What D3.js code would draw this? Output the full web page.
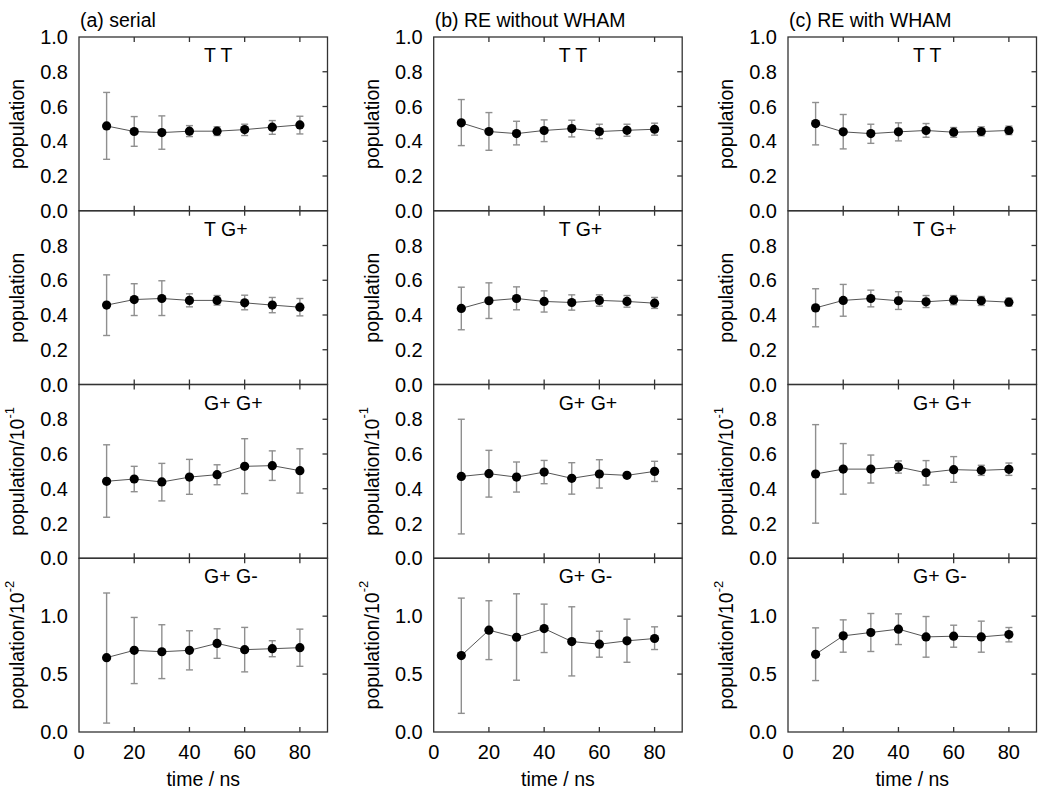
<!DOCTYPE html>
<html>
<head>
<meta charset="utf-8">
<script src="https://cdn.jsdelivr.net/npm/d3@7"></script>
<style>
  html, body { margin: 0; padding: 0; background: #fff; }
  svg text { font-family: "Liberation Sans", Arial, sans-serif; fill: #000; }
</style>
</head>
<body>
<svg id="chart" width="1047" height="802"></svg>
<script>
// ---------------- DATA ----------------
const times = [10, 20, 30, 40, 50, 60, 70, 80];
const columnTitles = ["(a) serial", "(b) RE without WHAM", "(c) RE with WHAM"];
const rowLabels = ["T T", "T G+", "G+ G+", "G+ G-"];
const yAxisTitles = [["population", ""], ["population", ""], ["population/10", "-1"], ["population/10", "-2"]];
const yTicksPopulation = [0, 0.2, 0.4, 0.6, 0.8, 1.0];
const yTicksScaled = [0, 0.5, 1.0, 1.5];
const xTicks = [0, 20, 40, 60, 80];

// (a) serial
const serial_TT_mean = [0.488, 0.456, 0.450, 0.458, 0.458, 0.467, 0.481, 0.494];
const serial_TT_low  = [0.296, 0.371, 0.354, 0.427, 0.433, 0.433, 0.440, 0.442];
const serial_TT_high = [0.681, 0.542, 0.546, 0.490, 0.483, 0.498, 0.519, 0.544];
const serial_TG_mean = [0.457, 0.489, 0.495, 0.484, 0.484, 0.470, 0.457, 0.445];
const serial_TG_low  = [0.282, 0.397, 0.397, 0.447, 0.457, 0.430, 0.413, 0.395];
const serial_TG_high = [0.631, 0.580, 0.597, 0.522, 0.512, 0.514, 0.501, 0.495];
const serial_GG_mean = [0.443, 0.456, 0.439, 0.467, 0.481, 0.529, 0.533, 0.504];
const serial_GG_low  = [0.236, 0.383, 0.330, 0.368, 0.423, 0.372, 0.448, 0.375];
const serial_GG_high = [0.653, 0.529, 0.546, 0.569, 0.538, 0.688, 0.618, 0.630];
const serial_GGm_mean = [0.642, 0.705, 0.693, 0.705, 0.765, 0.711, 0.719, 0.728];
const serial_GGm_low  = [0.077, 0.418, 0.461, 0.536, 0.636, 0.519, 0.650, 0.567];
const serial_GGm_high = [1.200, 0.989, 0.926, 0.874, 0.891, 0.903, 0.788, 0.888];

// (b) RE without WHAM
const reNo_TT_mean = [0.506, 0.456, 0.444, 0.462, 0.473, 0.456, 0.463, 0.469];
const reNo_TT_low  = [0.375, 0.348, 0.379, 0.398, 0.425, 0.415, 0.429, 0.435];
const reNo_TT_high = [0.640, 0.565, 0.515, 0.523, 0.521, 0.498, 0.498, 0.504];
const reNo_TG_mean = [0.438, 0.482, 0.495, 0.478, 0.472, 0.484, 0.478, 0.468];
const reNo_TG_low  = [0.315, 0.380, 0.430, 0.417, 0.428, 0.451, 0.445, 0.438];
const reNo_TG_high = [0.560, 0.585, 0.562, 0.539, 0.516, 0.516, 0.512, 0.501];
const reNo_GG_mean = [0.471, 0.487, 0.467, 0.496, 0.460, 0.485, 0.477, 0.500];
const reNo_GG_low  = [0.140, 0.352, 0.381, 0.429, 0.369, 0.404, 0.465, 0.442];
const reNo_GG_high = [0.800, 0.621, 0.554, 0.563, 0.550, 0.567, 0.488, 0.558];
const reNo_GGm_mean = [0.660, 0.879, 0.818, 0.893, 0.781, 0.758, 0.787, 0.807];
const reNo_GGm_low  = [0.161, 0.625, 0.447, 0.686, 0.484, 0.646, 0.602, 0.712];
const reNo_GGm_high = [1.156, 1.133, 1.193, 1.104, 1.081, 0.870, 0.974, 0.908];

// (c) RE with WHAM
const reW_TT_mean = [0.502, 0.454, 0.444, 0.454, 0.462, 0.452, 0.456, 0.462];
const reW_TT_low  = [0.379, 0.356, 0.388, 0.402, 0.423, 0.423, 0.431, 0.438];
const reW_TT_high = [0.623, 0.554, 0.498, 0.506, 0.502, 0.479, 0.483, 0.487];
const reW_TG_mean = [0.441, 0.484, 0.495, 0.482, 0.476, 0.486, 0.482, 0.474];
const reW_TG_low  = [0.332, 0.393, 0.447, 0.432, 0.443, 0.459, 0.455, 0.451];
const reW_TG_high = [0.551, 0.576, 0.543, 0.534, 0.512, 0.512, 0.507, 0.497];
const reW_GG_mean = [0.485, 0.513, 0.513, 0.525, 0.492, 0.510, 0.506, 0.512];
const reW_GG_low  = [0.202, 0.369, 0.433, 0.490, 0.421, 0.437, 0.477, 0.477];
const reW_GG_high = [0.769, 0.660, 0.594, 0.560, 0.562, 0.585, 0.535, 0.548];
const reW_GGm_mean = [0.671, 0.830, 0.859, 0.888, 0.821, 0.827, 0.821, 0.841];
const reW_GGm_low  = [0.444, 0.689, 0.695, 0.755, 0.646, 0.732, 0.689, 0.778];
const reW_GGm_high = [0.899, 0.968, 1.023, 1.020, 0.997, 0.922, 0.957, 0.902];

const panels = [
  [[serial_TT_mean, serial_TT_low, serial_TT_high], [serial_TG_mean, serial_TG_low, serial_TG_high],
   [serial_GG_mean, serial_GG_low, serial_GG_high], [serial_GGm_mean, serial_GGm_low, serial_GGm_high]],
  [[reNo_TT_mean, reNo_TT_low, reNo_TT_high], [reNo_TG_mean, reNo_TG_low, reNo_TG_high],
   [reNo_GG_mean, reNo_GG_low, reNo_GG_high], [reNo_GGm_mean, reNo_GGm_low, reNo_GGm_high]],
  [[reW_TT_mean, reW_TT_low, reW_TT_high], [reW_TG_mean, reW_TG_low, reW_TG_high],
   [reW_GG_mean, reW_GG_low, reW_GG_high], [reW_GGm_mean, reW_GGm_low, reW_GGm_high]]
];

// ---------------- LAYOUT ----------------
const svg = d3.select("#chart");
const colLeft = [79, 433.7, 788];
const plotW = 248.5;
const top0 = 37;
const rowH = 173.75;
const tickLen = 5;
const axisColor = "#333";
const tickFont = 20;
const labelFont = 19.5;

for (let c = 0; c < 3; c++) {
  const left = colLeft[c];
  const x = d3.scaleLinear().domain([0, 90]).range([left, left + plotW]);

  // column title
  svg.append("text")
    .attr("x", left + 1).attr("y", 27)
    .attr("font-size", labelFont)
    .text(columnTitles[c]);

  for (let r = 0; r < 4; r++) {
    const top = top0 + r * rowH;
    const bottom = top + rowH;
    const isLast = r === 3;
    const domainMax = isLast ? 1.5 : 1.0;
    const ticks = isLast ? yTicksScaled : yTicksPopulation;
    const y = d3.scaleLinear().domain([0, domainMax]).range([bottom, top]);
    const g = svg.append("g");

    // frame
    g.append("rect")
      .attr("x", x(0)).attr("y", y(domainMax))
      .attr("width", x(90) - x(0)).attr("height", y(0) - y(domainMax))
      .attr("fill", "none").attr("stroke", axisColor).attr("stroke-width", 1.3);

    // x ticks (top and bottom, inward)
    xTicks.filter(t => t > 0).forEach(t => {
      g.append("line").attr("x1", x(t)).attr("x2", x(t))
        .attr("y1", y(0)).attr("y2", y(0) - tickLen)
        .attr("stroke", axisColor).attr("stroke-width", 1.3);
      g.append("line").attr("x1", x(t)).attr("x2", x(t))
        .attr("y1", y(domainMax)).attr("y2", y(domainMax) + tickLen)
        .attr("stroke", axisColor).attr("stroke-width", 1.3);
    });

    // right ticks (inward)
    ticks.filter(t => t > 0 && t < domainMax).forEach(t => {
      g.append("line").attr("x1", x(90)).attr("x2", x(90) - tickLen)
        .attr("y1", y(t)).attr("y2", y(t))
        .attr("stroke", axisColor).attr("stroke-width", 1.3);
    });

    // y tick labels
    const labelTicks = ticks.filter(t => r === 0 ? true : t < domainMax - 1e-9)
      .filter(t => !(isLast && t === 1.5));
    labelTicks.forEach(t => {
      g.append("text")
        .attr("x", x(0) - 11).attr("y", y(t)).attr("dy", "0.36em")
        .attr("text-anchor", "end").attr("font-size", tickFont)
        .text(d3.format(".1f")(t));
    });

    // y axis title
    const cy = (top + bottom) / 2;
    const yt = g.append("text")
      .attr("transform", `translate(${x(0) - 55},${cy}) rotate(-90)`)
      .attr("text-anchor", "middle").attr("font-size", labelFont);
    yt.append("tspan").text(yAxisTitles[r][0]);
    if (yAxisTitles[r][1]) {
      yt.append("tspan").attr("font-size", 13).attr("dy", "-0.8em").text(yAxisTitles[r][1]);
    }

    // panel label
    g.append("text")
      .attr("x", x(0) + 125).attr("y", top + 25)
      .attr("font-size", labelFont)
      .text(rowLabels[r]);

    // data
    const [mean, lo, hi] = panels[c][r];
    const pts = times.map((t, i) => ({ t, m: mean[i], lo: lo[i], hi: hi[i] }));

    // error bars
    const eb = g.append("g").attr("stroke", "#8f8f8f").attr("stroke-width", 1.4);
    pts.forEach(p => {
      eb.append("line").attr("x1", x(p.t)).attr("x2", x(p.t)).attr("y1", y(p.lo)).attr("y2", y(p.hi));
      eb.append("line").attr("x1", x(p.t) - 3.5).attr("x2", x(p.t) + 3.5).attr("y1", y(p.lo)).attr("y2", y(p.lo));
      eb.append("line").attr("x1", x(p.t) - 3.5).attr("x2", x(p.t) + 3.5).attr("y1", y(p.hi)).attr("y2", y(p.hi));
    });

    // connecting line
    g.append("path")
      .datum(pts)
      .attr("d", d3.line().x(p => x(p.t)).y(p => y(p.m)))
      .attr("fill", "none").attr("stroke", "#555").attr("stroke-width", 1);

    // markers
    g.selectAll("circle.pt").data(pts).enter().append("circle")
      .attr("class", "pt")
      .attr("cx", p => x(p.t)).attr("cy", p => y(p.m)).attr("r", 4.6)
      .attr("fill", "#000");

    // x tick labels and axis title on last row
    if (isLast) {
      xTicks.forEach(t => {
        g.append("text").attr("x", x(t)).attr("y", 759)
          .attr("text-anchor", "middle").attr("font-size", tickFont)
          .text(t);
      });
      g.append("text").attr("x", (x(0) + x(90)) / 2).attr("y", 786)
        .attr("text-anchor", "middle").attr("font-size", labelFont)
        .text("time / ns");
    }
  }
}
</script>
</body>
</html>
